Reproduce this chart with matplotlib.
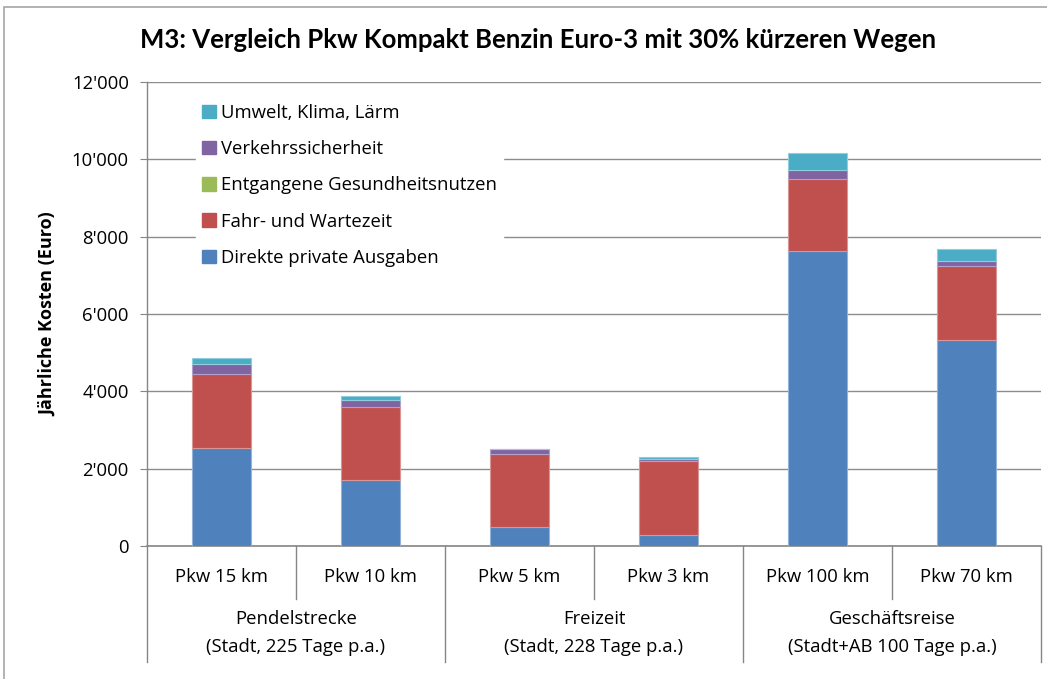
import matplotlib
matplotlib.use("Agg")
import matplotlib.pyplot as plt
import matplotlib.transforms as mtransforms
from matplotlib.patches import Rectangle, Patch
import numpy as np

plt.rcParams['font.family'] = ['Open Sans', 'DejaVu Sans']

categories = ["Pkw 15 km", "Pkw 10 km", "Pkw 5 km", "Pkw 3 km", "Pkw 100 km", "Pkw 70 km"]
groups = ["Pendelstrecke\n(Stadt, 225 Tage p.a.)",
          "Freizeit\n(Stadt, 228 Tage p.a.)",
          "Geschäftsreise\n(Stadt+AB 100 Tage p.a.)"]

direkte = [2527, 1707, 483, 284, 7621, 5327]
fahr = [1913, 1888, 1888, 1922, 1879, 1922]
gesundheit = [2, 2, 1, 1, 2, 2]
verkehr = [272, 187, 128, 51, 222, 127]
umwelt = [140, 95, 16, 36, 447, 310]

series = [
    ("Direkte private Ausgaben", direkte, "#4F81BD"),
    ("Fahr- und Wartezeit", fahr, "#C0504D"),
    ("Entgangene Gesundheitsnutzen", gesundheit, "#9BBB59"),
    ("Verkehrssicherheit", verkehr, "#8064A2"),
    ("Umwelt, Klima, Lärm", umwelt, "#4BACC6"),
]
edge = {"#4F81BD": "#95B3D7", "#C0504D": "#DA9694", "#9BBB59": "#9BBB59",
        "#8064A2": "#B1A0C7", "#4BACC6": "#92CDDC"}
lw = {"#9BBB59": 0.0}

W, H = 1047, 679
fig = plt.figure(figsize=(W / 100, H / 100), dpi=100)
fig.patch.set_facecolor("white")

# chart-area border
fig.add_artist(Rectangle((4 / W, -0.01), 1.05, 1 - 7 / H + 0.01, transform=fig.transFigure,
                         fill=False, edgecolor="#A6A6A6", linewidth=1.2))

ax = fig.add_axes([147 / W, 1 - 546 / H, (1041 - 147) / W, (546 - 82) / H])
x = np.arange(len(categories))
bottom = np.zeros(len(categories))
handles = []
for name, vals, col in series:
    ax.bar(x, vals, width=0.40, bottom=bottom, color=col, edgecolor=edge[col],
           linewidth=lw.get(col, 0.8), zorder=3)
    bottom += np.array(vals)
    handles.append(Patch(facecolor=col, edgecolor=col, label=name))

FS = 13.3
ax.set_xlim(-0.5, len(categories) - 0.5)
ax.set_ylim(0, 12000)
yt = np.arange(0, 12001, 2000)
ax.set_yticks(yt)
ax.set_yticklabels([f"{v:,}".replace(",", "'") for v in yt], fontsize=FS)
ax.yaxis.grid(True, color="#8C8C8C", linewidth=1.0, zorder=0)
ax.set_axisbelow(True)
ax.set_xticks([])
for s in ["top", "right"]:
    ax.spines[s].set_visible(False)
ax.spines["left"].set_color("#868686")
ax.spines["bottom"].set_color("#868686")
ax.spines["left"].set_linewidth(1.0)
ax.spines["bottom"].set_linewidth(1.2)
ax.tick_params(axis="y", length=5, color="#868686", pad=8)

ax.set_ylabel("Jährliche Kosten (Euro)", fontsize=13, fontweight="bold", labelpad=11)

# category axis
trans = mtransforms.blended_transform_factory(ax.transData, ax.transAxes)
for i, c in enumerate(categories):
    ax.text(i, -0.067, c, transform=trans, ha="center", va="center", fontsize=FS)
for gi, g in enumerate(groups):
    ax.text(2 * gi + 0.5, -0.188, g, transform=trans, ha="center", va="center",
            fontsize=FS, linespacing=1.75)
for xs in [0.5, 2.5, 4.5]:
    ax.plot([xs, xs], [0, -0.115], transform=trans, color="#868686", lw=1.0, clip_on=False)
for xs in [-0.5, 1.5, 3.5, 5.5]:
    ax.plot([xs, xs], [0, -0.25], transform=trans, color="#868686", lw=1.0, clip_on=False)

leg = ax.legend(handles=handles[::-1], loc="upper left", bbox_to_anchor=(0.045, 0.985),
                frameon=True, fontsize=FS, handlelength=0.75, handleheight=0.75,
                handletextpad=0.3, labelspacing=0.99, borderpad=0.3, fancybox=False)
leg.get_frame().set_edgecolor("white")
leg.get_frame().set_facecolor("white")
leg.get_frame().set_alpha(1.0)
leg.set_zorder(5)

fig.text(0.514, 1 - 40 / H, "M3: Vergleich Pkw Kompakt Benzin Euro-3 mit 30% kürzeren Wegen",
         ha="center", va="center", fontsize=18.5, fontweight="bold",
         family=['Lato', 'DejaVu Sans'])

fig.savefig("out.png", dpi=100)
